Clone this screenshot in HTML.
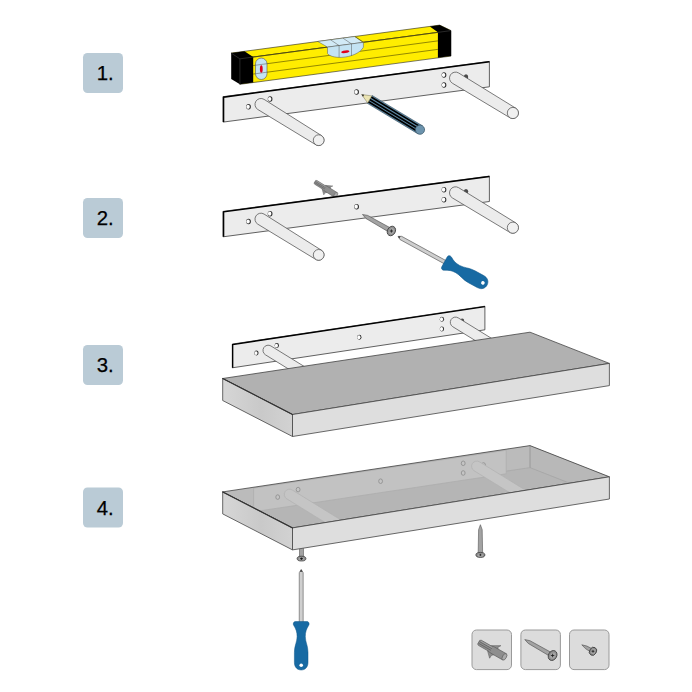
<!DOCTYPE html>
<html><head><meta charset="utf-8"><title>Shelf mounting</title>
<style>html,body{margin:0;padding:0;background:#fff;}body{width:692px;height:692px;overflow:hidden;font-family:"Liberation Sans",sans-serif;}svg{display:block}</style>
</head><body>
<svg width="692" height="692" viewBox="0 0 692 692">
<rect width="692" height="692" fill="#fff"/>
<rect x="83" y="53" width="40" height="40" rx="4.5" ry="4.5" fill="#bacbd6"/>
<text x="105.2" y="80.3" text-anchor="middle" font-family="Liberation Sans, sans-serif" font-size="20.5" fill="#000" stroke="#000" stroke-width="0.25" textLength="17" lengthAdjust="spacingAndGlyphs">1.</text>
<rect x="83" y="198" width="40" height="40" rx="4.5" ry="4.5" fill="#bacbd6"/>
<text x="105.2" y="225.3" text-anchor="middle" font-family="Liberation Sans, sans-serif" font-size="20.5" fill="#000" stroke="#000" stroke-width="0.25" textLength="17" lengthAdjust="spacingAndGlyphs">2.</text>
<rect x="83" y="345" width="40" height="40" rx="4.5" ry="4.5" fill="#bacbd6"/>
<text x="105.2" y="372.3" text-anchor="middle" font-family="Liberation Sans, sans-serif" font-size="20.5" fill="#000" stroke="#000" stroke-width="0.25" textLength="17" lengthAdjust="spacingAndGlyphs">3.</text>
<rect x="83" y="487.5" width="40" height="40" rx="4.5" ry="4.5" fill="#bacbd6"/>
<text x="105.2" y="514.8" text-anchor="middle" font-family="Liberation Sans, sans-serif" font-size="20.5" fill="#000" stroke="#000" stroke-width="0.25" textLength="17" lengthAdjust="spacingAndGlyphs">4.</text>
<g stroke-linejoin="round">
<polygon points="231.20,53.10 439.70,25.10 451.00,30.60 239.90,58.83" fill="#ffed00" stroke="#222" stroke-width="0.6"/>
<polygon points="239.90,58.83 451.00,30.60 451.00,56.10 239.90,84.33" fill="#ffed00" stroke="#222" stroke-width="0.6"/>
<line x1="253.2" y1="65.55" x2="437.9" y2="40.86" stroke="#4a4300" stroke-width="0.6"/>
<line x1="253.2" y1="74.05" x2="437.9" y2="49.36" stroke="#4a4300" stroke-width="0.6"/>
<line x1="253.2" y1="57.05" x2="437.9" y2="32.36" stroke="#4a4300" stroke-width="0.6"/>
<polygon points="231.20,53.10 244.50,51.31 253.20,57.05 253.20,82.55 239.90,84.33 231.20,78.90" fill="#000"/>
<path d="M239.9,58.83 L239.9,84.33 M231.2,53.10 L239.9,58.83 L253.2,57.05" stroke="#2c2c2c" stroke-width="0.9" fill="none"/>
<polygon points="429.80,26.43 439.70,25.10 451.00,30.60 451.00,56.10 437.90,57.86 437.90,32.36" fill="#000"/>
<path d="M437.9,32.36 L451,30.60" stroke="#2c2c2c" stroke-width="0.9" fill="none"/>
<polygon points="317.80,41.47 354.90,36.49 363.40,42.32 327.50,47.12" fill="#d2eaf6" stroke="#555" stroke-width="0.5"/>
<path d="M327.5,47.12 L327.5,53.6 C329.5,56.2 335,57.6 341.5,57.4 C351,57.0 360.5,52.8 363.4,47.2 L363.4,42.32 Z" fill="#c4e3f3" stroke="#555" stroke-width="0.5"/>
<path d="M354.9,36.49 L363.4,42.32" stroke="#7a7000" stroke-width="0.9"/>
<path d="M330.50,39.76 L339.1,45.57 L339.1,57.30" stroke="#555" stroke-width="0.5" fill="none"/>
<path d="M342.90,38.10 L351.5,43.91 L351.5,56.00" stroke="#555" stroke-width="0.5" fill="none"/>
<ellipse cx="345.3" cy="51.7" rx="4.1" ry="1.3" transform="rotate(-7 345.3 51.7)" fill="#e2001a"/>
<rect x="255.5" y="58.1" width="11.5" height="21.4" rx="5.75" ry="5.75" fill="#c4e3f3" stroke="#555" stroke-width="0.6"/>
<line x1="255.5" y1="65.24" x2="267" y2="63.70" stroke="#555" stroke-width="0.5"/>
<line x1="255.5" y1="73.74" x2="267" y2="72.20" stroke="#555" stroke-width="0.5"/>
<ellipse cx="261.3" cy="69.0" rx="1.4" ry="3.8" fill="#e2001a"/>
</g>
<polygon points="223.10,96.70 489.40,61.40 489.40,86.80 223.10,122.10" fill="#ececec" stroke="#3a3a3a" stroke-width="0.8" stroke-linejoin="miter"/>
<polyline points="223.55,122.10 223.55,97.15 489.40,61.85" fill="none" stroke="#000" stroke-width="1.5" stroke-linejoin="miter"/>
<ellipse cx="248.50" cy="106.80" rx="2.35" ry="2.70" fill="#2b2b2b"/>
<ellipse cx="248.08" cy="106.80" rx="1.72" ry="2.12" fill="#fff"/>
<ellipse cx="270.10" cy="99.00" rx="2.35" ry="2.70" fill="#2b2b2b"/>
<ellipse cx="269.68" cy="99.00" rx="1.72" ry="2.12" fill="#fff"/>
<ellipse cx="356.60" cy="92.00" rx="2.35" ry="2.70" fill="#2b2b2b"/>
<ellipse cx="356.18" cy="92.00" rx="1.72" ry="2.12" fill="#fff"/>
<ellipse cx="444.00" cy="75.00" rx="2.35" ry="2.70" fill="#2b2b2b"/>
<ellipse cx="443.58" cy="75.00" rx="1.72" ry="2.12" fill="#fff"/>
<ellipse cx="444.00" cy="85.00" rx="2.35" ry="2.70" fill="#2b2b2b"/>
<ellipse cx="443.58" cy="85.00" rx="1.72" ry="2.12" fill="#fff"/>
<ellipse cx="466.00" cy="76.90" rx="2.20" ry="2.60" fill="#4a4a4a"/>
<path d="M257.77,109.46 A5.95,5.95 0 0 1 264.03,99.34 L321.54,135.61 A5.40,5.40 0 0 1 315.86,144.79 Z" fill="#ececec" stroke="#505050" stroke-width="0.75" stroke-linejoin="round"/>
<circle cx="318.70" cy="140.20" r="5.40" fill="#f0f0f0" stroke="#505050" stroke-width="0.75"/>
<path d="M452.38,83.23 A6.00,6.00 0 0 1 458.62,72.97 L515.81,108.22 A5.60,5.60 0 0 1 509.99,117.78 Z" fill="#ececec" stroke="#505050" stroke-width="0.75" stroke-linejoin="round"/>
<circle cx="512.90" cy="113.00" r="5.60" fill="#f0f0f0" stroke="#505050" stroke-width="0.75"/>
<g transform="translate(361.60 94.50) rotate(31.08) scale(1.0 1.0)">
<path d="M9.5,-4.6 L68.19,-4.6 L68.19,4.6 L9.5,4.6 Z" fill="#5f8aa6" stroke="#2e4656" stroke-width="0.5"/>
<path d="M9.5,-2.7 L68.19,-2.7" stroke="#000" stroke-width="1.7"/>
<path d="M9.5,0 L68.19,0" stroke="#000" stroke-width="1.7"/>
<path d="M9.5,2.7 L68.19,2.7" stroke="#000" stroke-width="1.7"/>
<path d="M0,0 L9.5,-4.1 L9.5,4.1 Z" fill="#ebe4b3" stroke="#6b6640" stroke-width="0.4"/>
<path d="M0,0 L2.3,-1.1 L2.3,1.1 Z" fill="#222"/>
<circle cx="68.19" cy="0" r="4.6" fill="#6c93ad" stroke="#3d5a6c" stroke-width="0.7"/>
</g>
<g transform="translate(314.60 181.60) rotate(32.05) scale(1.0 1.12)">
<path d="M10.8,-2.1 L17.8,-5.3 L16.3,-3.4 L17.3,-2.1 Z" fill="#8e8e8e" stroke="#606060" stroke-width="0.4" stroke-linejoin="round"/>
<path d="M10.3,2.1 L14.8,5.7 L14.9,3.5 L16.6,2.1 Z" fill="#8e8e8e" stroke="#606060" stroke-width="0.4" stroke-linejoin="round"/>
<path d="M0.3,-1.4 L1.4,-1.95 L11.5,-1.95 L13,-2.4 L25,-2.4 L25,2.4 L13,2.4 L11.5,1.95 L1.4,1.95 L0.3,1.4 Z" fill="#8e8e8e" stroke="#606060" stroke-width="0.5" stroke-linejoin="round"/>
<path d="M0.6,-0.6 L12.5,-0.6 M0.6,0.7 L12.5,0.7" stroke="#606060" stroke-width="0.55" fill="none"/>
<path d="M1.2,-1.3 L12,-1.3" stroke="#ababab" stroke-width="0.5" fill="none"/>
<ellipse cx="25" cy="0" rx="1.6" ry="2.4" fill="#ababab" stroke="#606060" stroke-width="0.5"/>
</g>
<polygon points="223.10,211.40 489.40,176.10 489.40,201.50 223.10,236.80" fill="#ececec" stroke="#3a3a3a" stroke-width="0.8" stroke-linejoin="miter"/>
<polyline points="223.55,236.80 223.55,211.85 489.40,176.55" fill="none" stroke="#000" stroke-width="1.5" stroke-linejoin="miter"/>
<ellipse cx="248.50" cy="221.50" rx="2.35" ry="2.70" fill="#2b2b2b"/>
<ellipse cx="248.08" cy="221.50" rx="1.72" ry="2.12" fill="#fff"/>
<ellipse cx="270.10" cy="213.70" rx="2.35" ry="2.70" fill="#2b2b2b"/>
<ellipse cx="269.68" cy="213.70" rx="1.72" ry="2.12" fill="#fff"/>
<ellipse cx="356.60" cy="206.70" rx="2.35" ry="2.70" fill="#2b2b2b"/>
<ellipse cx="356.18" cy="206.70" rx="1.72" ry="2.12" fill="#fff"/>
<ellipse cx="444.00" cy="189.70" rx="2.35" ry="2.70" fill="#2b2b2b"/>
<ellipse cx="443.58" cy="189.70" rx="1.72" ry="2.12" fill="#fff"/>
<ellipse cx="444.00" cy="199.70" rx="2.35" ry="2.70" fill="#2b2b2b"/>
<ellipse cx="443.58" cy="199.70" rx="1.72" ry="2.12" fill="#fff"/>
<ellipse cx="466.00" cy="191.60" rx="2.20" ry="2.60" fill="#4a4a4a"/>
<path d="M257.77,224.16 A5.95,5.95 0 0 1 264.03,214.04 L321.54,250.31 A5.40,5.40 0 0 1 315.86,259.49 Z" fill="#ececec" stroke="#505050" stroke-width="0.75" stroke-linejoin="round"/>
<circle cx="318.70" cy="254.90" r="5.40" fill="#f0f0f0" stroke="#505050" stroke-width="0.75"/>
<path d="M452.38,197.93 A6.00,6.00 0 0 1 458.62,187.67 L515.81,222.92 A5.60,5.60 0 0 1 509.99,232.48 Z" fill="#ececec" stroke="#505050" stroke-width="0.75" stroke-linejoin="round"/>
<circle cx="512.90" cy="227.70" r="5.60" fill="#f0f0f0" stroke="#505050" stroke-width="0.75"/>
<g transform="translate(362.50 214.50) rotate(29.72) scale(1.0 1.0)">
<path d="M0,0 L5,-1.76 L32.28,-2.20 L32.28,2.20 L5,1.76 Z" fill="#a3a3a3" stroke="#555555" stroke-width="0.6" stroke-linejoin="round"/>
<ellipse cx="33.28" cy="0" rx="3.9" ry="5.0" fill="#8f8f8f" stroke="#3c3c3c" stroke-width="0.8"/>
<ellipse cx="33.58" cy="0" rx="2.42" ry="3.10" fill="#a6a6a6"/>
</g>
<path d="M389.76,231.00 L393.04,231.00 M391.40,229.36 L391.40,232.64" stroke="#1a1a1a" stroke-width="0.8"/>
<g transform="translate(398.00 236.40) rotate(28.70) scale(1.0 1.0)">
<path d="M0,0 L3.2,-1.80 L54.00,-1.80 L54.00,1.80 L3.2,1.80 Z" fill="#cfcfcf" stroke="#6a6a6a" stroke-width="0.7" stroke-linejoin="round"/>
<path d="M0,0 L2.2,-1.26 L2.2,1.26 Z" fill="#333"/>
<g transform="translate(53.00 0)">
<path d="M0,-5.6 C0,-8 2.6,-8.4 4,-7.4 C7.5,-5.2 10.5,-4.1 15,-4.1 C20.5,-4.1 24,-6.8 31,-6.8 L41,-6.8 C45.8,-6.8 48.5,-3.8 48.5,0 C48.5,3.8 45.8,6.8 41,6.8 L31,6.8 C24,6.8 20.5,4.1 15,4.1 C10.5,4.1 7.5,5.2 4,7.4 C2.6,8.4 0,8 0,5.6 Z" fill="#176aa3" stroke="#0f5688" stroke-width="0.5"/>
<circle cx="43.8" cy="0" r="1.8" fill="#fff"/>
</g></g>
<polygon points="232.30,344.10 484.90,306.20 484.90,329.80 232.30,367.80" fill="#ececec" stroke="#3a3a3a" stroke-width="0.8" stroke-linejoin="miter"/>
<polyline points="232.68,367.80 232.68,344.48 484.90,306.57" fill="none" stroke="#000" stroke-width="1.35" stroke-linejoin="miter"/>
<ellipse cx="256.40" cy="353.10" rx="2.16" ry="2.48" fill="#2b2b2b"/>
<ellipse cx="256.01" cy="353.10" rx="1.58" ry="1.95" fill="#fff"/>
<ellipse cx="276.80" cy="345.60" rx="2.16" ry="2.48" fill="#2b2b2b"/>
<ellipse cx="276.41" cy="345.60" rx="1.58" ry="1.95" fill="#fff"/>
<ellipse cx="359.30" cy="337.20" rx="2.16" ry="2.48" fill="#2b2b2b"/>
<ellipse cx="358.91" cy="337.20" rx="1.58" ry="1.95" fill="#fff"/>
<ellipse cx="441.90" cy="319.30" rx="2.16" ry="2.48" fill="#2b2b2b"/>
<ellipse cx="441.51" cy="319.30" rx="1.58" ry="1.95" fill="#fff"/>
<ellipse cx="441.90" cy="329.00" rx="2.16" ry="2.48" fill="#2b2b2b"/>
<ellipse cx="441.51" cy="329.00" rx="1.58" ry="1.95" fill="#fff"/>
<ellipse cx="462.20" cy="321.00" rx="2.02" ry="2.39" fill="#4a4a4a"/>
<path d="M265.47,354.83 A5.20,5.20 0 0 1 270.93,345.97 L317.73,374.77 A5.20,5.20 0 0 1 312.27,383.63 Z" fill="#ececec" stroke="#505050" stroke-width="0.75" stroke-linejoin="round"/>
<path d="M452.77,326.73 A5.20,5.20 0 0 1 458.23,317.87 L505.03,346.67 A5.20,5.20 0 0 1 499.57,355.53 Z" fill="#ececec" stroke="#505050" stroke-width="0.75" stroke-linejoin="round"/>
<defs><linearGradient id="lf" x1="0" y1="0" x2="1" y2="0"><stop offset="0" stop-color="#d6d6d6"/><stop offset="0.55" stop-color="#c9c9c9"/><stop offset="1" stop-color="#d2d2d2"/></linearGradient></defs>
<polygon points="222.70,378.50 530.00,332.20 609.40,363.40 292.50,414.50" fill="#b1b1b1" stroke="#444" stroke-width="0.8" stroke-linejoin="round"/>
<polygon points="222.70,378.50 292.50,414.50 292.50,436.50 222.70,400.50" fill="url(#lf)" stroke="#444" stroke-width="0.8" stroke-linejoin="round"/>
<polygon points="292.50,414.50 609.40,363.40 609.40,385.60 292.50,436.50" fill="#dedede" stroke="#444" stroke-width="0.8" stroke-linejoin="round"/>
<line x1="222.7" y1="378.5" x2="292.5" y2="414.5" stroke="#333" stroke-width="1.15" stroke-linecap="round"/>
<clipPath id="top4"><polygon points="222.70,491.90 530.00,445.60 609.40,476.80 292.50,527.90"/></clipPath>
<rect x="299.5" y="545" width="3.9" height="12" fill="#a3a3a3" stroke="#555555" stroke-width="0.6"/>
<ellipse cx="301.5" cy="558.6" rx="4.4" ry="2.4" fill="#8f8f8f" stroke="#3c3c3c" stroke-width="0.8"/>
<ellipse cx="301.5" cy="558.9" rx="2.8" ry="1.4" fill="#a6a6a6"/>
<path d="M300.0,558.7 L303.0,558.7 M301.5,557.6 L301.5,559.8" stroke="#111" stroke-width="0.9"/>
<polygon points="222.70,491.90 530.00,445.60 609.40,476.80 292.50,527.90" fill="#b5b5b5"/>
<g clip-path="url(#top4)">
<polygon points="222.70,491.90 530.00,445.60 530.00,467.60 222.70,513.90" fill="#bbbbbb"/>
<polygon points="530.00,445.60 609.40,476.80 609.40,498.80 530.00,467.60" fill="#b8b8b8" stroke="#a2a2a2" stroke-width="0.7"/>
<line x1="530.0" y1="445.6" x2="530.0" y2="467.6" stroke="#9e9e9e" stroke-width="0.8"/>
<line x1="530.0" y1="467.6" x2="506" y2="471.20000000000005" stroke="#a6a6a6" stroke-width="0.7"/>
<polygon points="253.60,488.10 506.20,450.20 506.20,473.80 253.60,511.80" fill="#c2c2c2" stroke="#adadad" stroke-width="0.8" stroke-linejoin="miter"/>
<ellipse cx="277.70" cy="497.10" rx="1.9" ry="2.3" fill="#c4c4c4" stroke="#929292" stroke-width="0.9"/>
<ellipse cx="298.10" cy="489.60" rx="1.9" ry="2.3" fill="#c4c4c4" stroke="#929292" stroke-width="0.9"/>
<ellipse cx="380.60" cy="481.20" rx="1.9" ry="2.3" fill="#c4c4c4" stroke="#929292" stroke-width="0.9"/>
<ellipse cx="463.20" cy="463.30" rx="1.9" ry="2.3" fill="#c4c4c4" stroke="#929292" stroke-width="0.9"/>
<ellipse cx="463.20" cy="473.00" rx="1.9" ry="2.3" fill="#c4c4c4" stroke="#929292" stroke-width="0.9"/>
<ellipse cx="483.50" cy="465.00" rx="1.9" ry="2.3" fill="#c4c4c4" stroke="#929292" stroke-width="0.9"/>
<path d="M286.77,498.83 A5.20,5.20 0 0 1 292.23,489.97 L339.03,518.77 A5.20,5.20 0 0 1 333.57,527.63 Z" fill="#c5c5c5" stroke="#b2b2b2" stroke-width="0.75" stroke-linejoin="round"/>
<path d="M474.07,470.73 A5.20,5.20 0 0 1 479.53,461.87 L526.33,490.67 A5.20,5.20 0 0 1 520.87,499.53 Z" fill="#c5c5c5" stroke="#b2b2b2" stroke-width="0.75" stroke-linejoin="round"/>
</g>
<polygon points="222.70,491.90 530.00,445.60 609.40,476.80 292.50,527.90" fill="none" stroke="#444" stroke-width="0.8" stroke-linejoin="round"/>
<polygon points="222.70,491.90 292.50,527.90 292.50,549.90 222.70,513.90" fill="url(#lf)" stroke="#444" stroke-width="0.8" stroke-linejoin="round"/>
<polygon points="292.50,527.90 609.40,476.80 609.40,499.00 292.50,549.90" fill="#dedede" stroke="#444" stroke-width="0.8" stroke-linejoin="round"/>
<line x1="222.7" y1="491.9" x2="292.5" y2="527.9" stroke="#333" stroke-width="1.15" stroke-linecap="round"/>
<g transform="translate(480.40 524.70) rotate(90.00) scale(1.0 1.0)">
<path d="M0,0 L5,-1.80 L29.20,-2.25 L29.20,2.25 L5,1.80 Z" fill="#a3a3a3" stroke="#555555" stroke-width="0.6" stroke-linejoin="round"/>
<ellipse cx="30.20" cy="0" rx="2.5" ry="4.5" fill="#8f8f8f" stroke="#3c3c3c" stroke-width="0.8"/>
<ellipse cx="30.50" cy="0" rx="1.55" ry="2.79" fill="#a6a6a6"/>
</g>
<path d="M479.35,554.90 L481.45,554.90 M480.40,553.85 L480.40,555.95" stroke="#1a1a1a" stroke-width="0.8"/>
<g transform="translate(301.20 569.50) rotate(90.00) scale(1.0 1.0)">
<path d="M0,0 L3.2,-1.95 L53.00,-1.95 L53.00,1.95 L3.2,1.95 Z" fill="#cfcfcf" stroke="#6a6a6a" stroke-width="0.7" stroke-linejoin="round"/>
<path d="M0,0 L2.2,-1.36 L2.2,1.36 Z" fill="#333"/>
<g transform="translate(52.00 0)">
<path d="M0,-5.6 C0,-8 2.6,-8.4 4,-7.4 C7.5,-5.2 10.5,-4.1 15,-4.1 C20.5,-4.1 24,-6.8 31,-6.8 L41,-6.8 C45.8,-6.8 48.5,-3.8 48.5,0 C48.5,3.8 45.8,6.8 41,6.8 L31,6.8 C24,6.8 20.5,4.1 15,4.1 C10.5,4.1 7.5,5.2 4,7.4 C2.6,8.4 0,8 0,5.6 Z" fill="#176aa3" stroke="#0f5688" stroke-width="0.5"/>
<circle cx="43.8" cy="0" r="1.8" fill="#fff"/>
</g></g>
<rect x="472.0" y="630" width="39.5" height="39.6" rx="4.5" ry="4.5" fill="#dcdcdc" stroke="#9a9a9a" stroke-width="1"/>
<rect x="520.9" y="630" width="39.5" height="39.6" rx="4.5" ry="4.5" fill="#dcdcdc" stroke="#9a9a9a" stroke-width="1"/>
<rect x="569.5" y="630" width="39.5" height="39.6" rx="4.5" ry="4.5" fill="#dcdcdc" stroke="#9a9a9a" stroke-width="1"/>
<g transform="translate(478.40 642.00) rotate(29.62) scale(1.2 1.5)">
<path d="M10.8,-2.1 L17.8,-5.3 L16.3,-3.4 L17.3,-2.1 Z" fill="#8e8e8e" stroke="#606060" stroke-width="0.4" stroke-linejoin="round"/>
<path d="M10.3,2.1 L14.8,5.7 L14.9,3.5 L16.6,2.1 Z" fill="#8e8e8e" stroke="#606060" stroke-width="0.4" stroke-linejoin="round"/>
<path d="M0.3,-1.4 L1.4,-1.95 L11.5,-1.95 L13,-2.4 L25,-2.4 L25,2.4 L13,2.4 L11.5,1.95 L1.4,1.95 L0.3,1.4 Z" fill="#8e8e8e" stroke="#606060" stroke-width="0.5" stroke-linejoin="round"/>
<path d="M0.6,-0.6 L12.5,-0.6 M0.6,0.7 L12.5,0.7" stroke="#606060" stroke-width="0.55" fill="none"/>
<path d="M1.2,-1.3 L12,-1.3" stroke="#ababab" stroke-width="0.5" fill="none"/>
<ellipse cx="25" cy="0" rx="1.6" ry="2.4" fill="#ababab" stroke="#606060" stroke-width="0.5"/>
</g>
<g transform="translate(524.80 639.60) rotate(29.77) scale(1.0 1.0)">
<path d="M0,0 L5,-1.60 L31.03,-2.00 L31.03,2.00 L5,1.60 Z" fill="#a3a3a3" stroke="#555555" stroke-width="0.6" stroke-linejoin="round"/>
<ellipse cx="32.03" cy="0" rx="4.1" ry="5.2" fill="#8f8f8f" stroke="#3c3c3c" stroke-width="0.8"/>
<ellipse cx="32.33" cy="0" rx="2.54" ry="3.22" fill="#a6a6a6"/>
</g>
<path d="M550.88,655.50 L554.32,655.50 M552.60,653.78 L552.60,657.22" stroke="#1a1a1a" stroke-width="0.8"/>
<g transform="translate(581.80 644.80) rotate(30.13) scale(1.0 1.0)">
<path d="M0,0 L5,-1.44 L11.95,-1.80 L11.95,1.80 L5,1.44 Z" fill="#a3a3a3" stroke="#555555" stroke-width="0.6" stroke-linejoin="round"/>
<ellipse cx="12.95" cy="0" rx="3.4" ry="4.2" fill="#8f8f8f" stroke="#3c3c3c" stroke-width="0.8"/>
<ellipse cx="13.25" cy="0" rx="2.11" ry="2.60" fill="#a6a6a6"/>
</g>
<path d="M591.57,651.30 L594.43,651.30 M593.00,649.87 L593.00,652.73" stroke="#1a1a1a" stroke-width="0.8"/>
</svg>
</body></html>
